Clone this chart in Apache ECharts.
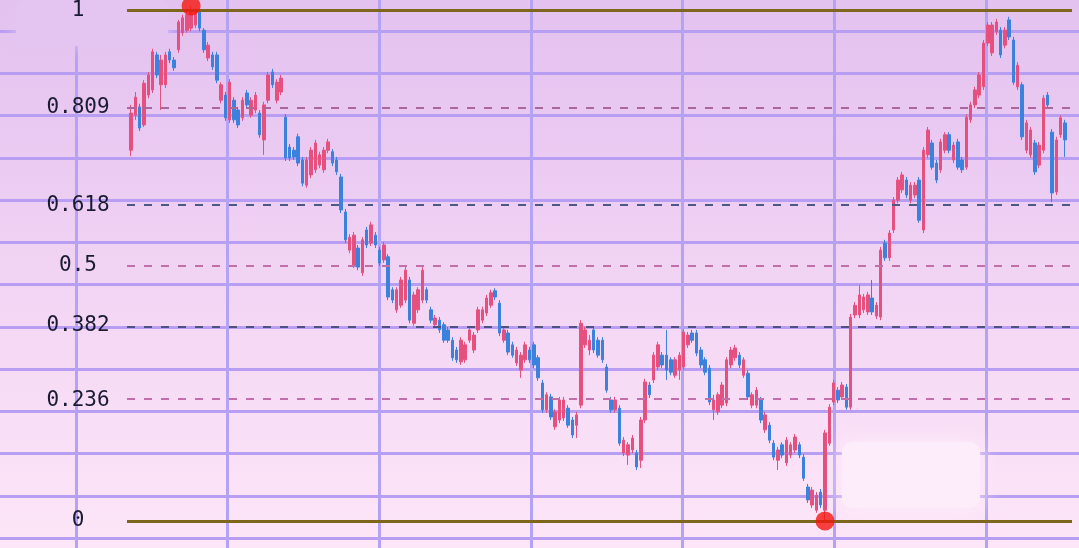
<!DOCTYPE html>
<html><head><meta charset="utf-8">
<script src="https://cdn.jsdelivr.net/npm/echarts@6/dist/echarts.min.js"></script>
<style>
html,body{margin:0;padding:0;width:1079px;height:548px;overflow:hidden;}
#c{width:1079px;height:548px;background:linear-gradient(180deg,#e3c2ef 0%,#ebcbf2 30%,#f6daf5 65%,#fde6f8 100%);}
</style></head><body><div id="c"></div>
<script>
// Fibonacci retracement levels (ratio of the swing range) and their tick labels
const fibLevels = [0, 0.236, 0.382, 0.5, 0.618, 0.809, 1];
const fibLabels = ['0', '0.236', '0.382', '0.5', '0.618', '0.809', '1'];

// Candle values on the retracement scale (0 = swing low, 1 = swing high)
const opens = [
.720,.788,.804,.769,.827,.837,.905,.847,.847,.911,
.895,.915,.948,.953,.957,.963,.988,.953,.899,.905,
.905,.817,.827,.779,.817,.798,.783,.831,.788,.798,
.792,.740,.817,.872,.817,.833,.784,.726,.720,.746,
.701,.652,.672,.682,.691,.682,.720,.717,.701,.668,
.600,.526,.497,.530,.482,.565,.540,.555,.526,.507,
.513,.449,.410,.419,.429,.468,.384,.410,.429,.449,
.410,.381,.390,.381,.371,.351,.332,.309,.313,.351,
.332,.371,.390,.404,.419,.447,.423,.351,.365,.342,
.307,.293,.313,.332,.342,.317,.268,.216,.241,.183,
.196,.200,.219,.196,.186,.225,.342,.332,.371,.351,
.351,.299,.235,.216,.219,.132,.128,.138,.132,.118,
.196,.264,.274,.299,.322,.322,.313,.283,.293,.299,
.342,.365,.365,.332,.313,.297,.216,.212,.225,.229,
.303,.317,.322,.283,.287,.225,.225,.235,.177,.186,
.151,.118,.148,.113,.128,.138,.148,.124,.066,.031,
.021,.056,.021,.151,.231,.254,.241,.260,.221,.400,
.400,.410,.406,.433,.398,.396,.540,.511,.565,.623,
.643,.662,.623,.633,.662,.565,.711,.734,.695,.682,
.720,.750,.701,.736,.701,.687,.779,.808,.827,.843,
.928,.909,.950,.953,.924,.973,.934,.843,.847,.720,
.711,.734,.691,.720,.827,.755,.639,.750,.773
];
const closes = [
.792,.823,.763,.850,.866,.911,.866,.895,.905,.895,
.880,.969,.977,.983,.988,.992,.957,.915,.924,.882,
.856,.847,.783,.852,.779,.769,.817,.808,.817,.827,
.750,.808,.866,.847,.852,.860,.705,.705,.707,.695,
.656,.701,.720,.734,.711,.720,.736,.695,.678,.604,
.546,.551,.555,.493,.546,.536,.575,.536,.501,.536,
.435,.429,.449,.468,.487,.390,.439,.449,.487,.429,
.390,.394,.371,.351,.351,.317,.313,.351,.342,.371,
.361,.410,.410,.433,.443,.435,.365,.371,.328,.322,
.332,.322,.342,.313,.303,.278,.216,.245,.202,.212,
.235,.235,.186,.167,.206,.384,.371,.351,.332,.322,
.313,.254,.216,.235,.151,.157,.148,.161,.105,.196,
.270,.245,.322,.342,.303,.293,.289,.313,.322,.367,
.361,.351,.326,.303,.289,.231,.235,.245,.264,.313,
.332,.336,.303,.313,.241,.245,.254,.196,.206,.157,
.124,.138,.128,.157,.148,.163,.128,.083,.041,.060,
.050,.031,.171,.221,.268,.235,.264,.221,.396,.419,
.439,.435,.439,.406,.419,.526,.511,.559,.623,.662,
.672,.633,.652,.652,.584,.720,.759,.687,.662,.736,
.750,.720,.730,.687,.682,.784,.808,.837,.866,.928,
.963,.963,.969,.905,.953,.940,.852,.885,.746,.773,
.759,.678,.730,.821,.808,.637,.740,.783,.740
];
const lows = [
.709,.779,.757,.765,.821,.831,.860,.798,.841,.889,
.874,.909,.942,.948,.951,.957,.951,.909,.893,.876,
.850,.811,.777,.773,.773,.763,.777,.802,.783,.792,
.744,.711,.811,.841,.811,.827,.699,.699,.701,.689,
.650,.647,.666,.676,.685,.676,.714,.689,.672,.598,
.540,.520,.491,.487,.476,.530,.534,.530,.495,.501,
.429,.423,.404,.414,.423,.384,.379,.404,.423,.423,
.384,.375,.365,.346,.346,.311,.307,.303,.307,.346,
.326,.365,.384,.398,.414,.429,.359,.346,.322,.317,
.301,.278,.307,.307,.297,.272,.210,.210,.196,.177,
.190,.194,.181,.161,.161,.219,.336,.322,.326,.317,
.307,.249,.210,.210,.146,.126,.109,.132,.099,.103,
.190,.239,.268,.293,.297,.274,.283,.278,.274,.293,
.336,.346,.320,.297,.283,.225,.196,.206,.219,.223,
.297,.311,.297,.278,.235,.219,.219,.190,.171,.151,
.118,.099,.122,.107,.122,.132,.122,.078,.035,.025,
.016,.025,0,.146,.225,.229,.235,.216,.216,.394,
.394,.404,.400,.400,.392,.390,.505,.505,.559,.617,
.637,.627,.617,.627,.579,.559,.705,.682,.656,.676,
.714,.714,.695,.682,.676,.682,.773,.802,.821,.837,
.922,.903,.944,.899,.918,.934,.847,.837,.740,.714,
.705,.672,.685,.714,.802,.619,.633,.744,.707
];
const highs = [
.808,.833,.810,.856,.872,.917,.911,.905,.911,.917,
.901,.973,.983,.988,1.000,.996,.994,.957,.930,.911,
.911,.852,.833,.858,.823,.804,.823,.837,.823,.833,
.798,.814,.872,.878,.858,.866,.790,.732,.726,.752,
.707,.707,.726,.740,.717,.726,.742,.722,.707,.674,
.606,.557,.561,.536,.551,.571,.581,.561,.532,.542,
.518,.454,.454,.474,.493,.474,.445,.454,.493,.454,
.416,.400,.396,.386,.377,.357,.338,.357,.348,.377,
.367,.416,.416,.439,.449,.452,.429,.377,.371,.348,
.338,.328,.348,.338,.348,.322,.274,.250,.247,.217,
.241,.241,.225,.202,.212,.390,.377,.361,.377,.357,
.357,.305,.241,.241,.225,.163,.153,.167,.138,.202,
.276,.270,.328,.348,.328,.371,.318,.318,.328,.373,
.367,.371,.371,.338,.318,.303,.245,.250,.270,.318,
.338,.342,.328,.318,.293,.250,.260,.241,.212,.192,
.157,.144,.153,.163,.153,.169,.153,.130,.072,.066,
.056,.062,.177,.227,.274,.260,.270,.266,.402,.425,
.458,.441,.445,.468,.425,.532,.546,.565,.629,.668,
.678,.668,.658,.658,.668,.726,.765,.740,.701,.742,
.755,.755,.736,.742,.707,.790,.814,.843,.872,.934,
.969,.969,.975,.959,.959,.979,.940,.891,.852,.779,
.765,.740,.736,.827,.833,.761,.746,.788,.779
];

const categories = opens.map((_, i) => String(i + 1));
const candles = opens.map((o, i) => [o, closes[i], lows[i], highs[i]]);
let iMax = 0, iMin = 0;
highs.forEach((h, i) => { if (h > highs[iMax]) iMax = i; });
lows.forEach((l, i) => { if (l < lows[iMin]) iMin = i; });
const pivots = [[iMax, highs[iMax]], [iMin, lows[iMin]]];

// styles for each fib line (same order as fibLevels)
const fibStyles = [
  {color:'#7e661c', width:3, type:'solid'},
  {color:'#c26ea9', width:2, type:[8,9]},
  {color:'#4e5280', width:2, type:[8,9]},
  {color:'#c26ea9', width:2, type:[8,9]},
  {color:'#4e5884', width:2, type:[8,9]},
  {color:'#a9679c', width:2, type:[8,9]},
  {color:'#7e661c', width:3, type:'solid'}
];

const chart = echarts.init(document.getElementById('c'), null, {renderer:'canvas'});
const hidden = {show:false};
chart.setOption({
  animation: false,
  backgroundColor: 'transparent',
  grid: [
    {left:0, right:0, top:31, bottom:10},
    {left:76, right:93, top:0, bottom:0},
    {left:127, right:7, top:6, bottom:27},
    {left:129, right:12, top:6, bottom:27}
  ],
  xAxis: [
    {gridIndex:0, type:'value', min:0, max:1, show:false},
    {gridIndex:1, type:'value', min:0, max:6, interval:1, axisLine:hidden, axisTick:hidden, axisLabel:hidden,
     splitLine:{show:true, lineStyle:{color:'#b4a2f5', width:3}}},
    {gridIndex:2, type:'value', min:0, max:1, show:false},
    {gridIndex:3, type:'category', data:categories, boundaryGap:true, show:false}
  ],
  yAxis: [
    {gridIndex:0, type:'value', min:0, max:12, interval:1, axisLine:hidden, axisTick:hidden, axisLabel:hidden,
     splitLine:{show:true, lineStyle:{color:'#b89ef3', width:3}}},
    {gridIndex:1, type:'value', min:0, max:1, show:false},
    {gridIndex:2, type:'value', min:0, max:1, z:4, axisLine:hidden, axisTick:hidden, splitLine:hidden,
     axisLabel:{
       customValues: fibLevels,
       showMinLabel:true, showMaxLabel:true,
       formatter: (v) => { const k = fibLevels.findIndex(f => Math.abs(f - v) < 1e-6); return k >= 0 ? fibLabels[k] : ''; },
       align:'center', margin:49,
       fontFamily:'DejaVu Sans Mono', fontSize:21, color:'#1a1a33'
     }},
    {gridIndex:3, type:'value', min:0, max:1, show:false}
  ],
  graphic: [
    {type:'rect', z:1, silent:true, shape:{x:842, y:442, width:138, height:66, r:10},
     style:{fill:'#fdecf9', shadowBlur:22, shadowColor:'#fdecf9'}},
    {type:'rect', z:1, silent:true, shape:{x:16, y:0, width:152, height:46, r:8},
     style:{fill:'#e4c4f0', shadowBlur:16, shadowColor:'#e4c4f0'}}
  ],
  series: [
    {
      type:'line', xAxisIndex:2, yAxisIndex:2, data:[], silent:true, z:2,
      markLine:{
        silent:true, symbol:['none','none'], label:{show:false},
        data: fibLevels.map((lv, i) => ({yAxis: lv, lineStyle: fibStyles[i]}))
      }
    },
    {
      type:'candlestick', xAxisIndex:3, yAxisIndex:3, data:candles, barWidth:3, z:3, clip:false,
      itemStyle:{color:'#e6507f', color0:'#3a82dd', borderColor:'#e6507f', borderColor0:'#3a82dd', borderWidth:1}
    },
    {
      type:'scatter', xAxisIndex:3, yAxisIndex:3, data:pivots, symbolSize:19, z:5, clip:false,
      itemStyle:{color:'#f5170e'}
    }
  ]
});
</script>
</body></html>
